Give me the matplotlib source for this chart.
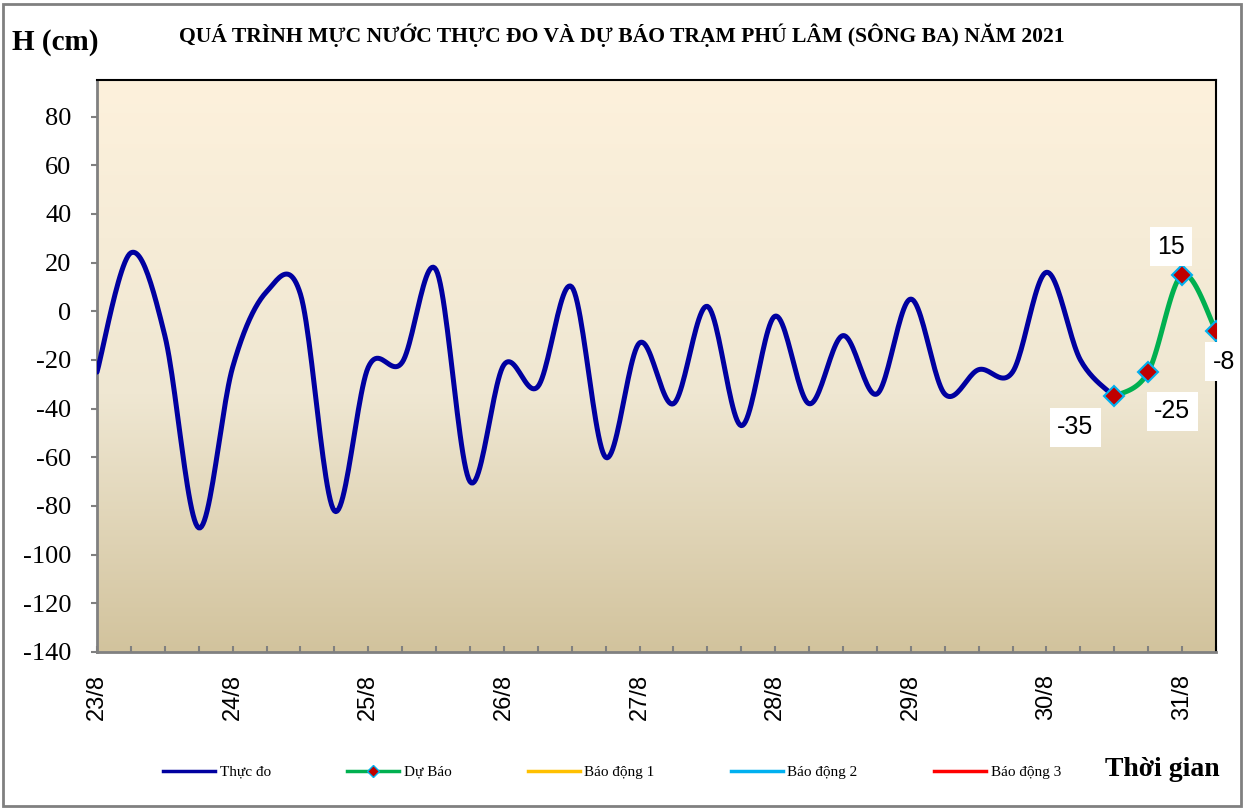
import numpy as np
import matplotlib
matplotlib.use('Agg')
from matplotlib import pyplot as plt
from matplotlib.lines import Line2D
from matplotlib.colors import LinearSegmentedColormap
from matplotlib.patches import Rectangle

# du lieu: moi 6 gio mot diem, bat dau 23/8 00h
day_labels = ['23/8', '24/8', '25/8', '26/8', '27/8', '28/8', '29/8', '30/8', '31/8']
thuc_do = [-25, 24, -10, -89, -23, 8, 7, -82, -23, -21, 17, -70, -22, -31, 10, -60,
           -13, -38, 2, -47, -2, -38, -10, -34, 5, -34, -24, -25, 16, -20, -35]
du_bao = [-35, -25, 15, -8]
du_bao_start = 30  # buoc 6h cua diem du bao dau tien
y_ticks = list(range(-140, 81, 20))

def smooth(x, y, n=24):
    # spline Catmull-Rom giong duong "smoothed line" cua Excel
    x = np.asarray(x, float); y = np.asarray(y, float)
    px = np.concatenate([[x[0]], x, [x[-1]]])
    py = np.concatenate([[y[0]], y, [y[-1]]])
    xs, ys = [], []
    t = np.linspace(0, 1, n, endpoint=False)
    for i in range(1, len(px) - 2):
        for p, out in ((px, xs), (py, ys)):
            p0, p1, p2, p3 = p[i-1], p[i], p[i+1], p[i+2]
            c1 = p1 + (p2 - p0) / 6
            c2 = p2 - (p3 - p1) / 6
            out.append((1-t)**3*p1 + 3*(1-t)**2*t*c1 + 3*(1-t)*t**2*c2 + t**3*p2)
    xs.append([x[-1]]); ys.append([y[-1]])
    return np.concatenate(xs), np.concatenate(ys)

fig = plt.figure(figsize=(12.49, 8.09), dpi=100)
ax = fig.add_axes([97/1249, 1-652/809, (1216-97)/1249, (652-80)/809])

# nen gradient
cmap = LinearSegmentedColormap.from_list('bg', [(0, '#d2c39d'), (0.45, '#efe7d2'), (1, '#fdf1dc')])
grad = np.linspace(0, 1, 256).reshape(-1, 1)
ax.imshow(grad, extent=[0, 1, 0, 1], transform=ax.transAxes, aspect='auto',
          cmap=cmap, origin='lower', zorder=0)

x_obs = np.arange(len(thuc_do))
x_fc = np.arange(du_bao_start, du_bao_start + len(du_bao))
sx, sy = smooth(x_obs, thuc_do)
ax.plot(sx, sy, color='#0000a0', lw=3.6, zorder=3, solid_capstyle='round')
fx, fy = smooth(x_fc, du_bao)
ax.plot(fx, fy, color='#00b050', lw=3.6, zorder=3)
ax.plot(x_fc, du_bao, ls='none', marker='D', ms=10, mfc='#c00000', mec='#00b0f0',
        mew=1.5, zorder=4)

offsets = [(-39, -31), (24, -39), (-11, 28), (8, -31)]
for xv, yv, off in zip(x_fc, du_bao, offsets):
    ax.annotate(str(yv), (xv, yv), xytext=off, textcoords='offset pixels',
                ha='center', va='center', fontsize=18, family='Liberation Sans',
                bbox=dict(boxstyle='square,pad=0.3', fc='white', ec='none'),
                zorder=6, annotation_clip=False)

ax.set_xlim(0, 33)
ax.set_ylim(-140, 95)
ax.set_yticks(y_ticks)
ax.set_yticklabels([str(v) for v in y_ticks], family='Liberation Serif', fontsize=19)
ax.set_xticks(np.arange(0, 33, 4))
ax.set_xticklabels(day_labels, rotation=90, family='Liberation Sans', fontsize=17, va='top')
ax.set_xticks(np.arange(0, 34, 1), minor=True)
ax.tick_params(axis='x', which='both', direction='in', length=4.5, color='#808080', width=1.5, pad=16)
ax.tick_params(axis='y', direction='out', length=4.5, color='#808080', width=1.5, pad=14)
for s in ['left', 'bottom']:
    ax.spines[s].set_color('#808080'); ax.spines[s].set_linewidth(2)
for s in ['top', 'right']:
    ax.spines[s].set_color('black'); ax.spines[s].set_linewidth(1.5)

fig.text(622/1249, 1-35/809, 'QUÁ TRÌNH MỰC NƯỚC THỰC ĐO VÀ DỰ BÁO TRẠM PHÚ LÂM (SÔNG BA) NĂM 2021',
         ha='center', va='center', family='Liberation Serif', weight='bold', fontsize=15.6)
fig.text(12/1249, 1-42/809, 'H (cm)', ha='left', va='center', family='Liberation Serif',
         weight='bold', fontsize=21)
fig.text(1220/1249, 1-770/809, 'Thời gian', ha='right', va='center', family='Liberation Serif',
         weight='bold', fontsize=20)

handles = [
    Line2D([], [], color='#0000a0', lw=2.5),
    Line2D([], [], color='#00b050', lw=2.5, marker='D', ms=6, mfc='#c00000', mec='#00b0f0'),
    Line2D([], [], color='#ffc000', lw=2.5),
    Line2D([], [], color='#00b0f0', lw=2.5),
    Line2D([], [], color='#ff0000', lw=2.5),
]
labels = ['Thực đo', 'Dự Báo', 'Báo động 1', 'Báo động 2', 'Báo động 3']
fig.legend(handles, labels, loc='center', bbox_to_anchor=(612/1249, 1-772/809), ncol=5,
           frameon=False, prop={'family': 'Liberation Serif', 'size': 11},
           handlelength=3.4, handletextpad=0.3, columnspacing=5.0)

fig.patches.append(Rectangle((3/1249, 3/809), 1238/1249, 802/809, transform=fig.transFigure,
                             fill=False, ec='#808080', lw=2))
fig.savefig('out.png', dpi=100)
